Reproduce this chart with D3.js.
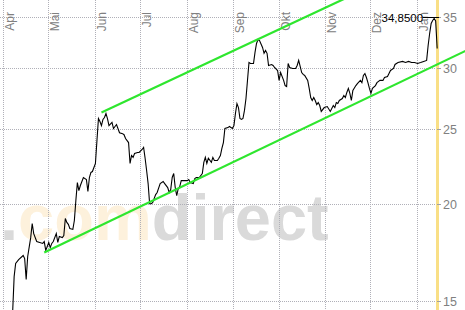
<!DOCTYPE html>
<html>
<head>
<meta charset="utf-8">
<script src="https://cdn.jsdelivr.net/npm/d3@7"></script>
<style>
html, body { margin: 0; padding: 0; background: #fff; overflow: hidden; }
svg { display: block; font-family: "Liberation Sans", Arial, sans-serif; }
</style>
</head>
<body>
<svg></svg>
<script>
const width = 465;
const height = 310;
const plotRight = 437;

// price series (daily close)
const dates = [
	'2003-04-07','2003-04-08','2003-04-09','2003-04-11','2003-04-14','2003-04-15','2003-04-16','2003-04-17',
	'2003-04-19','2003-04-20','2003-04-21','2003-04-23','2003-04-25','2003-04-27','2003-04-28','2003-04-29',
	'2003-05-01','2003-05-02','2003-05-03','2003-05-04','2003-05-06','2003-05-07','2003-05-08','2003-05-10',
	'2003-05-11','2003-05-12','2003-05-13','2003-05-14','2003-05-15','2003-05-17','2003-05-18','2003-05-19',
	'2003-05-20','2003-05-21','2003-05-22','2003-05-24','2003-05-26','2003-05-27','2003-05-28','2003-05-29',
	'2003-05-30','2003-06-01','2003-06-02','2003-06-03','2003-06-04','2003-06-05','2003-06-06','2003-06-07',
	'2003-06-08','2003-06-09','2003-06-10','2003-06-12','2003-06-13','2003-06-14','2003-06-15','2003-06-17',
	'2003-06-19','2003-06-20','2003-06-21','2003-06-23','2003-06-24','2003-06-25','2003-06-26','2003-06-27',
	'2003-06-29','2003-06-30','2003-07-02','2003-07-03','2003-07-04','2003-07-05','2003-07-06','2003-07-07',
	'2003-07-08','2003-07-09','2003-07-11','2003-07-12','2003-07-14','2003-07-16','2003-07-17','2003-07-19',
	'2003-07-20','2003-07-21','2003-07-22','2003-07-23','2003-07-24','2003-07-25','2003-07-26','2003-07-27',
	'2003-07-28','2003-07-30','2003-08-01','2003-08-02','2003-08-03','2003-08-05','2003-08-06','2003-08-07',
	'2003-08-09','2003-08-11','2003-08-12','2003-08-13','2003-08-14','2003-08-15','2003-08-17','2003-08-18',
	'2003-08-19','2003-08-21','2003-08-22','2003-08-23','2003-08-24','2003-08-25','2003-08-26','2003-08-28',
	'2003-08-29','2003-08-31','2003-09-01','2003-09-02','2003-09-03','2003-09-04','2003-09-05','2003-09-06',
	'2003-09-07','2003-09-08','2003-09-09','2003-09-10','2003-09-11','2003-09-12','2003-09-14','2003-09-15',
	'2003-09-16','2003-09-17','2003-09-18','2003-09-20','2003-09-21','2003-09-22','2003-09-23','2003-09-24',
	'2003-09-26','2003-09-27','2003-09-28','2003-09-30','2003-10-01','2003-10-02','2003-10-04','2003-10-05',
	'2003-10-06','2003-10-07','2003-10-08','2003-10-10','2003-10-12','2003-10-13','2003-10-14','2003-10-15',
	'2003-10-16','2003-10-17','2003-10-18','2003-10-20','2003-10-21','2003-10-22','2003-10-23','2003-10-24',
	'2003-10-25','2003-10-26','2003-10-27','2003-10-28','2003-10-29','2003-10-31','2003-11-02','2003-11-04',
	'2003-11-06','2003-11-07','2003-11-08','2003-11-09','2003-11-10','2003-11-12','2003-11-13','2003-11-14',
	'2003-11-15','2003-11-16','2003-11-17','2003-11-18','2003-11-19','2003-11-21','2003-11-22','2003-11-24',
	'2003-11-25','2003-11-26','2003-11-27','2003-11-28','2003-11-29','2003-11-30','2003-12-01','2003-12-02',
	'2003-12-04','2003-12-05','2003-12-07','2003-12-09','2003-12-10','2003-12-12','2003-12-13','2003-12-14',
	'2003-12-16','2003-12-17','2003-12-19','2003-12-22','2003-12-24','2003-12-26','2003-12-28','2003-12-30',
	'2004-01-01','2004-01-03','2004-01-05','2004-01-07','2004-01-08','2004-01-09','2004-01-10','2004-01-11',
	'2004-01-12','2004-01-13','2004-01-14'
];
const prices = [
	14.50, 16.14, 16.79, 16.98, 17.19, 17.03, 16.00, 17.14,
	18.13, 18.91, 18.35, 17.92, 17.87, 17.82, 17.92, 17.45,
	17.87, 17.60, 17.82, 17.92, 18.35, 17.87, 18.19, 18.13,
	18.24, 19.19, 18.97, 18.86, 18.63, 18.58, 19.08, 20.25,
	21.36, 20.86, 21.18, 21.69, 21.56, 20.80, 21.69, 22.02,
	22.08, 22.62, 24.20, 25.86, 25.63, 25.32, 25.79, 25.94,
	26.25, 25.86, 25.32, 25.56, 25.10, 25.25, 25.40, 24.79,
	24.72, 24.64, 24.36, 24.07, 22.62, 23.16, 23.03, 23.30,
	23.37, 23.37, 23.58, 23.72, 22.97, 22.15, 21.30, 20.06,
	20.06, 20.12, 20.61, 20.74, 21.30, 21.43, 21.30, 21.05,
	20.74, 20.92, 21.69, 21.95, 21.05, 20.55, 20.98, 21.11,
	21.49, 21.49, 21.49, 21.56, 21.36, 21.30, 21.62, 21.69,
	21.69, 21.95, 22.69, 23.03, 22.62, 22.97, 22.69, 23.03,
	22.82, 22.82, 22.97, 23.16, 23.65, 24.07, 25.10, 25.17,
	25.25, 25.10, 25.32, 26.25, 27.04, 26.72, 25.86, 25.79,
	25.86, 26.49, 27.45, 28.97, 30.56, 30.47, 30.47, 31.50,
	32.34, 32.73, 32.63, 31.96, 31.41, 31.68, 31.41, 30.29,
	30.38, 30.29, 30.11, 29.84, 28.97, 29.66, 28.97, 28.53,
	28.45, 30.47, 30.11, 30.02, 30.02, 30.29, 30.75, 30.20,
	29.66, 29.49, 29.40, 28.97, 28.29, 27.53, 27.29, 27.53,
	27.29, 26.96, 27.12, 26.88, 26.41, 26.72, 26.80, 26.41,
	26.88, 26.72, 27.12, 27.04, 27.29, 27.45, 27.70, 27.53,
	27.95, 28.29, 27.87, 27.29, 28.12, 28.53, 28.70, 28.97,
	28.78, 29.40, 29.57, 29.22, 28.78, 28.29, 27.87, 28.29,
	28.53, 28.78, 28.97, 28.97, 29.22, 29.31, 29.57, 29.84,
	30.02, 30.38, 30.56, 30.66, 30.56, 30.66, 30.56, 30.56,
	30.47, 30.56, 30.66, 30.75, 32.15, 33.32, 34.34, 34.64,
	34.85, 34.60, 31.87
];

// trend channel end points
const channelDates = ['2003-06-05', '2004-02-02'];
const upperChannel = [26.33, 43.77];
const lowerChannelDates = ['2003-04-28', '2004-02-02'];
const lowerChannel = [17.34, 31.65];

// axes
const monthTicks = ['2003-04-01','2003-05-01','2003-06-01','2003-07-01','2003-08-01',
	'2003-09-01','2003-10-01','2003-11-01','2003-12-01','2004-01-01'];
const monthLabels = ['Apr','Mai','Jun','Jul','Aug','Sep','Okt','Nov','Dez','Jan'];
const priceTicks = [15, 20, 25, 30, 35];

const parse = d3.utcParse('%Y-%m-%d');
const data = dates.map((d, i) => ({ date: parse(d), value: prices[i] }));

const x = d3.scaleUtc()
	.domain([parse('2003-04-01'), parse('2004-01-01')])
	.range([3.6, 417.6]);
const y = d3.scaleLog()
	.domain([15, 35])
	.range([301.2, 17.0]);

const svg = d3.select('svg')
	.attr('width', width)
	.attr('height', height);

const defs = svg.append('defs');
defs.append('clipPath').attr('id', 'plot')
	.append('rect').attr('x', 0).attr('y', 0).attr('width', plotRight + 2).attr('height', height);

// watermark
const wm = svg.append('text')
	.attr('x', 0)
	.attr('y', 240)
	.attr('font-size', 65)
	.attr('font-weight', 'bold');
wm.append('tspan').attr('fill', '#dadada').text('.');
wm.append('tspan').attr('fill', '#fdf1dc').text('com');
wm.append('tspan').attr('fill', '#dadada').text('direct');

// grid
const grid = svg.append('g')
	.attr('stroke', '#b0b0b8')
	.attr('stroke-dasharray', '1,1')
	.attr('shape-rendering', 'crispEdges');
grid.selectAll('.vgrid').data(monthTicks)
	.enter().append('line')
	.attr('x1', d => Math.floor(x(parse(d))) + 0.5)
	.attr('x2', d => Math.floor(x(parse(d))) + 0.5)
	.attr('y1', 0)
	.attr('y2', height);
grid.selectAll('.hgrid').data(priceTicks)
	.enter().append('line')
	.attr('x1', 0)
	.attr('x2', plotRight)
	.attr('y1', d => Math.floor(y(d)) + 0.5)
	.attr('y2', d => Math.floor(y(d)) + 0.5);

// today marker
const last = data[data.length - 1];
svg.append('rect')
	.attr('x', Math.floor(x(last.date)) - 1)
	.attr('y', 0)
	.attr('width', 3)
	.attr('height', height)
	.attr('fill', '#f9df86');

// month labels
svg.append('g').selectAll('text').data(monthTicks)
	.enter().append('text')
	.attr('transform', d => `translate(${Math.floor(x(parse(d))) + 10.5}, 12) rotate(-90)`)
	.attr('text-anchor', 'end')
	.attr('font-size', 12)
	.attr('fill', '#808080')
	.text((d, i) => monthLabels[i]);

// right axis
const rAxis = svg.append('g');
rAxis.selectAll('line').data(priceTicks)
	.enter().append('line')
	.attr('x1', plotRight)
	.attr('x2', plotRight + 4)
	.attr('y1', d => Math.floor(y(d)) + 0.5)
	.attr('y2', d => Math.floor(y(d)) + 0.5)
	.attr('stroke', '#a0a0a0')
	.attr('shape-rendering', 'crispEdges');
rAxis.selectAll('text').data(priceTicks)
	.enter().append('text')
	.attr('x', 443)
	.attr('y', d => y(d))
	.attr('dy', '0.36em')
	.attr('font-size', 12.5)
	.attr('fill', '#808080')
	.text(d => d);

// trend channel
const plot = svg.append('g').attr('clip-path', 'url(#plot)');
const chLine = d3.line().x(d => x(d.date)).y(d => y(d.value));
const upper = channelDates.map((d, i) => ({ date: parse(d), value: upperChannel[i] }));
const lower = lowerChannelDates.map((d, i) => ({ date: parse(d), value: lowerChannel[i] }));
[upper, lower].forEach(c => {
	svg.append('path')
		.attr('d', chLine(c))
		.attr('fill', 'none')
		.attr('stroke', '#2ee62e')
		.attr('stroke-width', 2.2);
});

// price line
plot.append('path')
	.datum(data)
	.attr('d', d3.line().x(d => x(d.date)).y(d => y(d.value)))
	.attr('fill', 'none')
	.attr('stroke', '#000')
	.attr('stroke-width', 1.1);

// max marker
const maxD = data.reduce((a, b) => (b.value > a.value ? b : a));
const my = Math.round(y(maxD.value)) - 0.5;
svg.append('line')
	.attr('x1', x(maxD.date) - 11)
	.attr('x2', plotRight + 2)
	.attr('y1', my)
	.attr('y2', my)
	.attr('stroke', '#000')
	.attr('shape-rendering', 'crispEdges');
svg.append('text')
	.attr('x', x(maxD.date) - 11)
	.attr('y', my + 4)
	.attr('text-anchor', 'end')
	.attr('font-size', 11.5)
	.attr('fill', '#000')
	.text(maxD.value.toFixed(4).replace('.', ','));
</script>
</body>
</html>
